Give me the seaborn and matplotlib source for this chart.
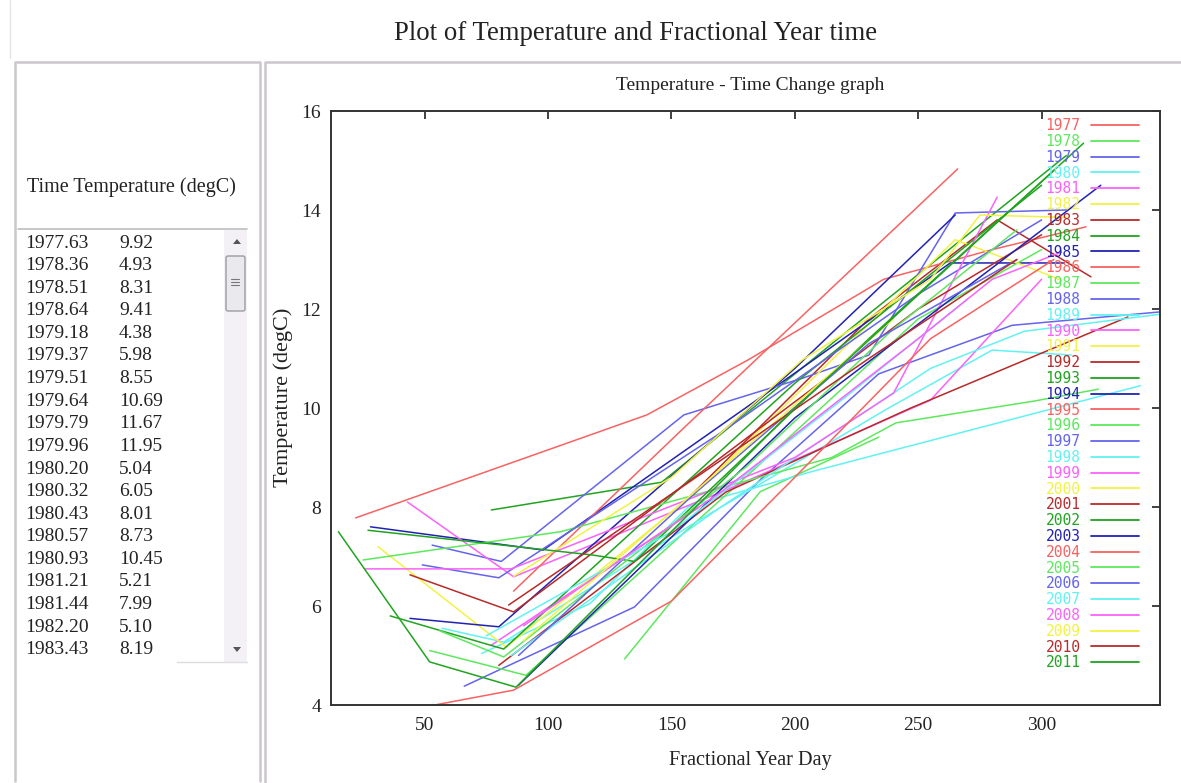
import numpy as np
import pandas as pd
import matplotlib.pyplot as plt
import matplotlib.patches as mpatches
from matplotlib.lines import Line2D
import seaborn as sns

sns.set_style('white')
plt.rcParams['font.family'] = ['Liberation Serif', 'DejaVu Serif']

# Values in the scroll list (fractional year, temperature)
list_time = [1977.63, 1978.36, 1978.51, 1978.64, 1979.18, 1979.37, 1979.51, 1979.64,
             1979.79, 1979.96, 1980.20, 1980.32, 1980.43, 1980.57, 1980.93, 1981.21,
             1981.44, 1982.20, 1983.43]
list_temp = [9.92, 4.93, 8.31, 9.41, 4.38, 5.98, 8.55, 10.69, 11.67, 11.95, 5.04, 6.05,
             8.01, 8.73, 10.45, 5.21, 7.99, 5.10, 8.19]

# Per-year curves: day of year and temperature (degC)
day_1977 = [230];  temp_1977 = [9.92]
day_1978 = [131, 186, 234];  temp_1978 = [4.93, 8.31, 9.41]
day_1979 = [66, 135, 186, 234, 288, 350];  temp_1979 = [4.38, 5.98, 8.55, 10.69, 11.67, 11.95]
day_1980 = [73, 117, 157, 208, 340];  temp_1980 = [5.04, 6.05, 8.01, 8.73, 10.45]
day_1981 = [77, 161];  temp_1981 = [5.21, 7.99]
day_1982 = [73];  temp_1982 = [5.10]
day_1983 = [157, 230, 282, 320];  temp_1983 = [8.19, 11.8, 13.8, 12.65]
day_1984 = [77, 146, 220, 310];  temp_1984 = [7.94, 8.5, 11.5, 15.1]
day_1985 = [28, 98, 180, 263, 309];  temp_1985 = [7.6, 7.13, 10.0, 12.93, 12.93]
day_1986 = [22, 140, 181, 236, 280, 318];  temp_1986 = [7.78, 9.86, 10.97, 12.6, 13.2, 13.66]
day_1987 = [52, 91, 180, 250, 300];  temp_1987 = [5.1, 4.6, 8.6, 11.8, 13.2]
day_1988 = [53, 81, 155, 203, 230, 265, 310];  temp_1988 = [7.23, 6.9, 9.86, 10.6, 11.07, 13.94, 14.0]
day_1989 = [57, 82, 160, 238, 280, 312];  temp_1989 = [5.55, 5.27, 7.7, 10.0, 11.17, 11.07]
day_1990 = [43, 86, 172, 255, 300];  temp_1990 = [8.1, 6.59, 8.34, 10.16, 12.6]
day_1991 = [31, 83, 160, 265, 297, 308];  temp_1991 = [7.2, 5.17, 8.3, 13.4, 12.8, 12.58]
day_1992 = [80, 172, 247, 335];  temp_1992 = [4.8, 8.3, 10.0, 11.84]
day_1993 = [36, 82, 200, 300];  temp_1993 = [5.8, 5.13, 10.5, 14.5]
day_1994 = [44, 80, 200, 265];  temp_1994 = [5.75, 5.58, 10.8, 13.9]
day_1995 = [86, 154, 266];  temp_1995 = [6.3, 9.55, 14.83]
day_1996 = [25, 105, 215, 241, 297, 323];  temp_1996 = [6.93, 7.5, 9.0, 9.7, 10.14, 10.38]
day_1997 = [49, 80, 170, 250, 300];  temp_1997 = [6.83, 6.57, 9.5, 12.3, 13.8]
day_1998 = [85, 170, 255, 293, 349];  temp_1998 = [5.0, 8.0, 10.8, 11.55, 11.9]
day_1999 = [26, 85, 200, 240, 282];  temp_1999 = [6.75, 6.75, 9.0, 10.3, 14.26]
day_2000 = [86, 150, 203, 255, 275, 310];  temp_2000 = [6.6, 8.6, 10.97, 12.6, 13.9, 13.85]
day_2001 = [44, 86, 170, 250, 300];  temp_2001 = [6.63, 5.88, 9.0, 12.0, 13.5]
day_2002 = [27, 118, 135, 230, 305];  temp_2002 = [7.53, 7.03, 6.9, 11.4, 14.8]
day_2003 = [88, 200, 324];  temp_2003 = [4.4, 9.8, 14.5]
day_2004 = [54, 86, 150, 200, 255, 305];  temp_2004 = [4.0, 4.3, 6.1, 8.6, 11.4, 13.0]
day_2005 = [56, 82, 180, 240, 290];  temp_2005 = [5.5, 4.97, 8.8, 11.6, 13.6]
day_2006 = [88, 160, 230, 290];  temp_2006 = [5.0, 8.3, 11.3, 13.0]
day_2007 = [75, 150, 220, 270];  temp_2007 = [5.4, 7.5, 10.2, 12.2]
day_2008 = [90, 170, 250, 280, 308];  temp_2008 = [5.6, 8.3, 11.4, 12.6, 13.15]
day_2009 = [90, 180, 240];  temp_2009 = [5.3, 9.2, 11.8]
day_2010 = [84, 160, 230, 290];  temp_2010 = [6.02, 8.6, 11.0, 13.0]
day_2011 = [15, 52, 87, 200, 317];  temp_2011 = [7.5, 4.87, 4.36, 10.0, 15.35]

years = list(range(1977, 2012))
gp_colors = ['#f86262', '#5ee85e', '#6464ec', '#62f2f2', '#fa62fa',
             '#f2f244', '#b82a2a', '#20a420', '#2222b2']

rows = []
for y in years:
    for d, t in zip(globals()['day_%d' % y], globals()['temp_%d' % y]):
        rows.append({'year': str(y), 'day': d, 'temp': t})
df = pd.DataFrame(rows)
hue_order = [str(y) for y in years]
palette = {str(y): gp_colors[i % 9] for i, y in enumerate(years)}

fig = plt.figure(figsize=(11.81, 7.83), dpi=100)

# background "window" in pixel coordinates
bg = fig.add_axes([0, 0, 1, 1])
bg.set_xlim(0, 1181)
bg.set_ylim(783, 0)
bg.axis('off')
border = '#cbc7cd'
bg.plot([10, 10], [0, 58], color='#e2e6ea', lw=1)
bg.plot([15, 15, 260, 260], [781, 62, 62, 781], color=border, lw=1.8)
bg.plot([265, 265, 1181], [783, 62, 62], color=border, lw=1.8)

bg.text(636, 33, 'Plot of Temperature and Fractional Year time', ha='center', va='center',
        fontsize=19.3, color='#222222')
bg.text(27, 187, 'Time Temperature (degC)', va='center', fontsize=14.5, color='#222222')

# list box with scrollbar
bg.plot([18, 247], [229, 229], color='#bdbdbd', lw=1.2)
bg.add_patch(mpatches.Rectangle((224, 230), 23, 432, fc='#f3f1f6', ec='none'))
bg.plot([177, 247], [662, 662], color='#dddddd', lw=1)
bg.add_patch(mpatches.Polygon([(233, 244), (241, 244), (237, 239)], fc='#555555', ec='none'))
bg.add_patch(mpatches.Polygon([(233, 647), (241, 647), (237, 652)], fc='#555555', ec='none'))
bg.add_patch(mpatches.FancyBboxPatch((226, 256), 19, 55, boxstyle='round,pad=0,rounding_size=2',
                                     fc='#e9e9ee', ec='#9c9c9c', lw=1))
for gy in [279, 282, 285]:
    bg.plot([231, 239], [gy, gy], color='#777777', lw=0.8)
for i, (tm, tp) in enumerate(zip(list_time, list_temp)):
    yy = 243 + i * 22.6
    bg.text(25, yy, '%.2f' % tm, va='center', fontsize=14, color='#222222')
    bg.text(119, yy, '%.2f' % tp, va='center', fontsize=14, color='#222222')

bg.text(750, 85, 'Temperature - Time Change graph', ha='center', va='center',
        fontsize=14, color='#222222')

# chart
ax = fig.add_axes([331 / 1181, 1 - 705 / 783, 829 / 1181, 594 / 783])
sns.lineplot(data=df, x='day', y='temp', hue='year', hue_order=hue_order, palette=palette,
             sort=False, estimator=None, lw=1.1, legend=False, ax=ax)
ax.set_xlim(12, 348)
ax.set_ylim(4, 16)
ax.set_xticks([50, 100, 150, 200, 250, 300])
ax.set_yticks([4, 6, 8, 10, 12, 14, 16])
ax.tick_params(direction='in', top=True, right=True, length=6, width=1.3,
               labelsize=14, colors='#333333', labelcolor='#222222')
ax.tick_params(axis='x', pad=9)
ax.tick_params(axis='y', pad=7)
for s in ax.spines.values():
    s.set_color('#333333')
    s.set_linewidth(1.4)
ax.set_xlabel('Fractional Year Day', fontsize=14.6, color='#222222', va='center')
ax.set_ylabel('Temperature (degC)', fontsize=16, color='#222222', va='center')
ax.xaxis.set_label_coords((750 - 331) / 829, (705 - 760) / 594)
ax.yaxis.set_label_coords((283 - 331) / 829, (705 - 397) / 594)

handles = [Line2D([], [], color=palette[y], lw=1.3) for y in hue_order]
ax.legend(handles, hue_order, loc='upper right', bbox_to_anchor=((1139 - 331) / 829, 0.988),
          markerfirst=False, frameon=False, labelcolor='linecolor',
          prop={'family': 'DejaVu Sans Mono', 'size': 10.5}, handlelength=3.3,
          handletextpad=0.7, labelspacing=0.055, borderpad=0, borderaxespad=0)

fig.savefig('out.png', dpi=100)
